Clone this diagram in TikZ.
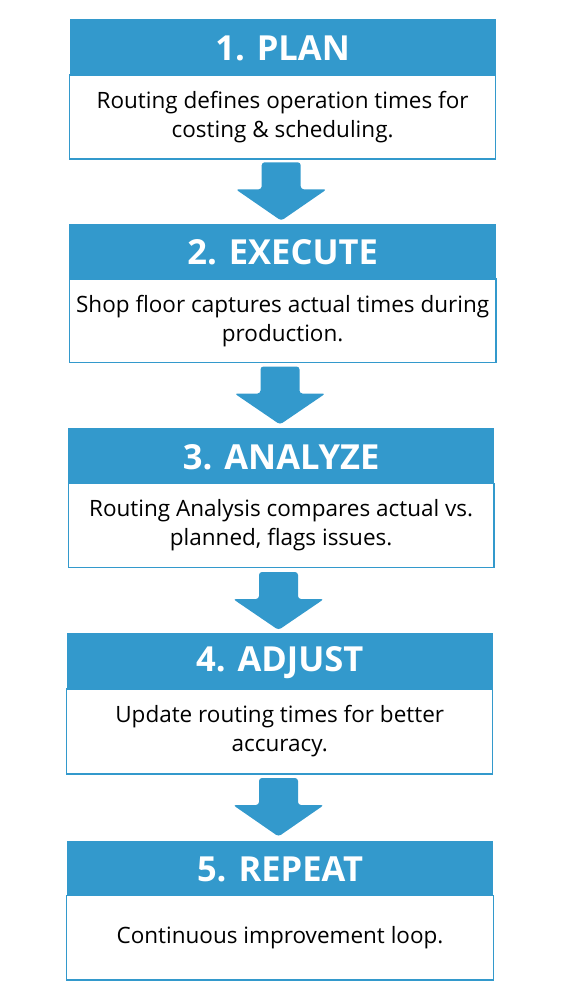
\documentclass[tikz,border=0pt]{standalone}
\usepackage{fontspec}
\setmainfont{Open Sans}
\definecolor{hdr}{HTML}{3399CC}
\tikzset{
  htext/.style={text=white,font=\fontsize{34.5}{40}\selectfont\bfseries,inner sep=0pt},
  btext/.style={text=black,font=\fontsize{22.5}{29}\selectfont,align=center,inner sep=0pt},
  downarrow/.style={fill=hdr,rounded corners=3pt}
}
\newcommand\flowstep[8]{%
  \fill[hdr] (#2,#4) rectangle (#3,#5);
  \draw[hdr,line width=1.5pt] (#2,#5) rectangle (#3,#6);
  \node[htext] (#1h) at ({(#2+#3)/2},{(#4+#5)/2+1}) {#7};
  \node[btext] (#1b) at ({(#2+#3)/2},{(#5+#6)/2}) {#8};
}
\newcommand\flowarrow[4]{% name cx top tip
  \coordinate (#1) at (#2,#3);
  \fill[downarrow] ($(#1)+(-19.5,0)$) -- ($(#1)+(19.5,0)$) -- ($(#1)+(19.5,27)$) -- ($(#1)+(45.5,27)$) -- ($(#1)+(0,#4-#3)$) -- ($(#1)+(-45.5,27)$) -- ($(#1)+(-19.5,27)$) -- cycle;
}
\usetikzlibrary{calc}
\begin{document}
\begin{tikzpicture}[x=1pt,y=-1pt]
\useasboundingbox (0,0) rectangle (563,1000);
\flowstep{s1}{69.5}{495.7}{19.3}{75}{159}{1. PLAN}{Routing defines operation times for\\costing \& scheduling.}
\flowstep{s2}{69.3}{496}{223.7}{279}{362.7}{2. EXECUTE}{Shop floor captures actual times during\\production.}
\flowstep{s3}{68.3}{494}{428.3}{483.3}{567.7}{3. ANALYZE}{Routing Analysis compares actual vs.\\planned, flags issues.}
\flowstep{s4}{66.7}{492.7}{633.3}{689}{774}{4. ADJUST}{Update routing times for better\\accuracy.}
\flowstep{s5}{66.7}{493.3}{840.7}{895.7}{980}{5. REPEAT}{Continuous improvement loop.}
\flowarrow{a1}{281.2}{162.3}{220.7}
\flowarrow{a2}{280}{366.5}{424.5}
\flowarrow{a3}{278.5}{572}{630}
\flowarrow{a4}{278.5}{778}{836.5}
\end{tikzpicture}
\end{document}
